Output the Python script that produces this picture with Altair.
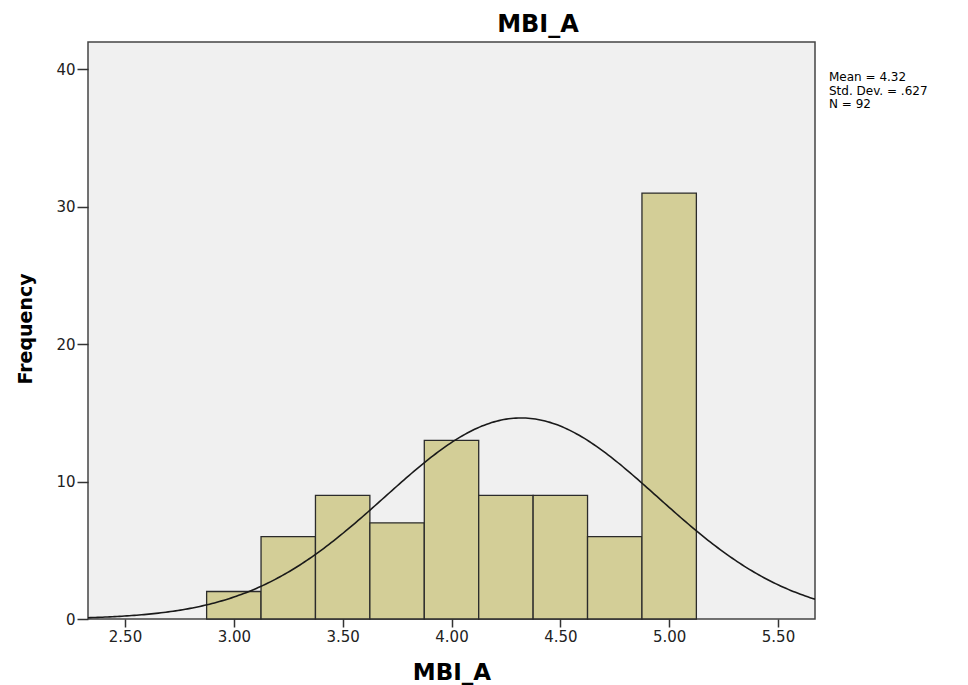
import altair as alt
import pandas as pd
import numpy as np

# Histogram data (bin edges and counts)
bin_starts = [2.875, 3.125, 3.375, 3.625, 3.875, 4.125, 4.375, 4.625, 4.875]
bin_ends = [3.125, 3.375, 3.625, 3.875, 4.125, 4.375, 4.625, 4.875, 5.125]
counts = [2, 6, 9, 7, 13, 9, 9, 6, 31]

# Summary statistics shown in the legend
MEAN = 4.32
SD = 0.627
N = 92
BIN_WIDTH = 0.25
stats_lines = ["Mean = 4.32", "Std. Dev. = .627", "N = 92"]

x_ticks = [2.5, 3.0, 3.5, 4.0, 4.5, 5.0, 5.5]
y_ticks = [0, 10, 20, 30, 40]
X_DOMAIN = [2.33, 5.67]
Y_DOMAIN = [0, 42]

bars_df = pd.DataFrame({"start": bin_starts, "end": bin_ends, "count": counts})

# Fitted normal curve scaled to frequency
xs = np.linspace(X_DOMAIN[0], X_DOMAIN[1], 300)
ys = N * BIN_WIDTH / (SD * np.sqrt(2 * np.pi)) * np.exp(-0.5 * ((xs - MEAN) / SD) ** 2)
curve_df = pd.DataFrame({"x": xs, "y": ys})

W, H = 727, 577
FONT = "DejaVu Sans"

xscale = alt.Scale(domain=X_DOMAIN, nice=False, zero=False)
yscale = alt.Scale(domain=Y_DOMAIN, nice=False)

x_axis = alt.Axis(
    title=None, values=x_ticks, format=".2f", grid=False,
    labelFont=FONT, labelFontSize=15, labelColor="#222222",
    tickSize=8, tickColor="#333333", tickWidth=1.5,
    domain=False, labelPadding=2,
)
y_axis = alt.Axis(
    title=None, values=y_ticks, format="d", grid=False,
    labelFont=FONT, labelFontSize=15, labelColor="#222222",
    tickSize=11, tickColor="#333333", tickWidth=1.5,
    domain=False, labelPadding=2,
)

bars = alt.Chart(bars_df).mark_rect(
    fill="#D3CE97", stroke="#2b2b2b", strokeWidth=1.3
).encode(
    x=alt.X("start:Q", scale=xscale, axis=x_axis),
    x2="end:Q",
    y=alt.Y("count:Q", scale=yscale, axis=y_axis),
    y2=alt.datum(0),
)

curve = alt.Chart(curve_df).mark_line(
    color="#1a1a1a", strokeWidth=1.6, clip=True
).encode(
    x=alt.X("x:Q", scale=xscale),
    y=alt.Y("y:Q", scale=yscale),
)


def label(text, x, y, size, weight="normal", align="center", angle=0, baseline="alphabetic"):
    kw = dict(font=FONT, fontSize=size, fontWeight=weight, color="#000000",
              align=align, baseline=baseline)
    if angle:
        kw["angle"] = angle
    return alt.Chart(pd.DataFrame({"t": [text]})).mark_text(**kw).encode(
        text="t:N", x=alt.value(x), y=alt.value(y)
    )


title = label("MBI_A", 450, -10, 24, "bold")
x_title = label("MBI_A", 364, 638, 23, "bold")
y_title = label("Frequency", -56, 287, 19, "bold", angle=270)

stats = [
    label(s, W + 14, 35 + 13.5 * i, 12, align="left", baseline="middle")
    for i, s in enumerate(stats_lines)
]

chart = alt.layer(bars, curve, title, x_title, y_title, *stats).properties(
    width=W, height=H,
    autosize=alt.AutoSizeParams(type="none"),
    padding={"left": 80, "top": 34, "right": 140, "bottom": 70},
).configure_view(
    fill="#F0F0F0", stroke="#444444", strokeWidth=1.5
)

chart.save("out.html", embed_options={"renderer": "svg", "actions": False})
